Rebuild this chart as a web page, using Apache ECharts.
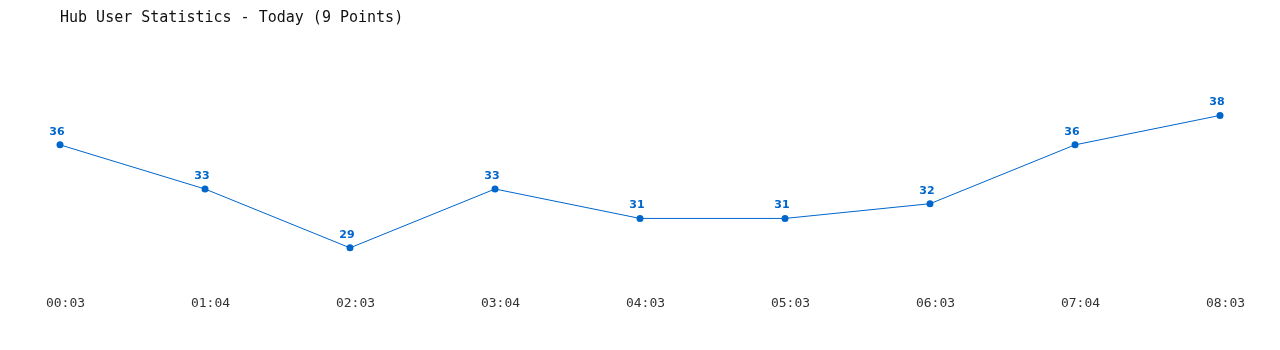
<!DOCTYPE html>
<html>
<head>
<meta charset="utf-8">
<script src="https://cdn.jsdelivr.net/npm/echarts@6/dist/echarts.min.js"></script>
<style>
html,body{margin:0;padding:0;background:#fff;}
#chart{width:1280px;height:350px;}
</style>
</head>
<body>
<div id="chart"></div>
<script>
const titleText = "Hub User Statistics - Today (9 Points)";
const categories = ["00:03","01:04","02:03","03:04","04:03","05:03","06:03","07:04","08:03"];
const userCounts = [36,33,29,33,31,31,32,36,38];

const chart = echarts.init(document.getElementById('chart'), null, {renderer:'canvas'});
chart.setOption({
  animation:false,
  backgroundColor:'#ffffff',
  title:{
    text:titleText,
    left:55, top:6,
    textStyle:{fontFamily:'"DejaVu Sans Mono", monospace', fontSize:15, fontWeight:'normal', color:'#111'}
  },
  grid:{left:60, right:60, top:86, height:206},
  xAxis:{
    type:'category',
    data:categories,
    boundaryGap:false,
    axisLine:{show:false},
    axisTick:{show:false},
    splitLine:{show:false},
    axisLabel:{
      color:'#333', fontFamily:'"DejaVu Sans Mono", monospace', fontSize:13,
      margin:5, padding:[0,0,0,11]
    }
  },
  yAxis:{
    type:'value', min:26, max:40,
    show:false,
    splitLine:{show:false}
  },
  series:[{
    type:'line',
    data:userCounts,
    color:'#0066cc',
    lineStyle:{width:1, color:'#0066cc'},
    symbol:'circle',
    symbolSize:7,
    itemStyle:{color:'#0066cc'},
    label:{
      show:true, position:'top', distance:4, offset:[-3,0],
      color:'#0066cc', fontFamily:'Verdana, "DejaVu Sans", sans-serif', fontSize:11, fontWeight:'bold'
    }
  }]
});
</script>
</body>
</html>
